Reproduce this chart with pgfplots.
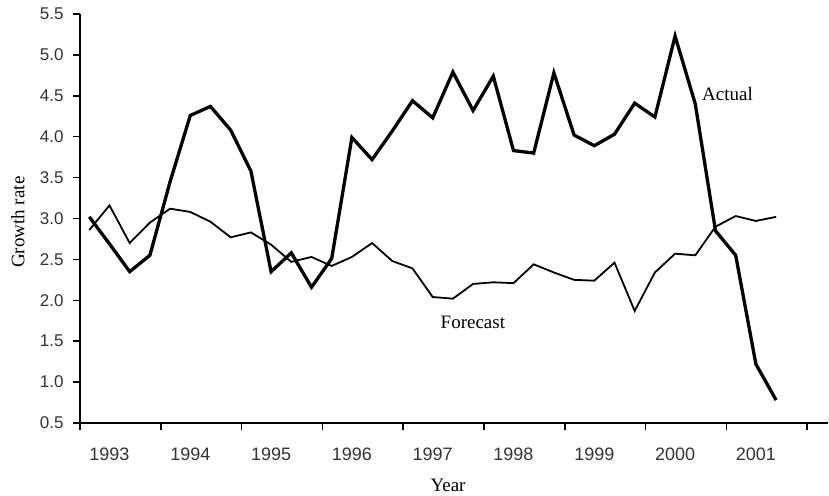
\documentclass[border=0pt]{standalone}
\usepackage{fontspec}
\setmainfont{Liberation Serif}
\newfontfamily\tickfont{Liberation Sans}
\usepackage{pgfplots}
\pgfplotsset{compat=1.18}
\begin{document}
\begin{tikzpicture}
\useasboundingbox (-80bp,-73bp) rectangle (749bp,423bp);
\begin{axis}[
  scale only axis, width=748bp, height=409bp,
  anchor=south west, at={(0,0)},
  xmin=-0.46, xmax=36.57, ymin=0.5, ymax=5.5,
  axis x line=bottom, axis y line=left,
  axis line style={-, line width=1.8bp},
  tick align=outside,
  major tick length=7bp,
  tick style={line width=1.6bp, black},
  xtick={-0.46,3.54,7.54,11.54,15.54,19.54,23.54,27.54,31.54,35.54},
  xticklabels={},
  extra x ticks={1,5,9,13,17,21,25,29,33},
  extra x tick labels={1993,1994,1995,1996,1997,1998,1999,2000,2001},
  extra x tick style={major tick length=0pt, tick style={draw=none},
     xticklabel style={yshift=-21bp}},
  ytick={0.5,1,...,5.5},
  yticklabel style={/pgf/number format/fixed, /pgf/number format/fixed zerofill, /pgf/number format/precision=1, xshift=-6bp},
  /pgf/number format/assume math mode=true,
  ticklabel style={font=\tickfont\fontsize{17bp}{20bp}\selectfont, text=black!80},
  xticklabel style={font=\tickfont\fontsize{18bp}{20bp}\selectfont},
  xlabel={Year}, ylabel={Growth rate},
  label style={font=\fontsize{19bp}{22bp}\selectfont},
  xlabel style={at={(axis description cs:0.492,-0.1516)}, anchor=center},
  ylabel style={at={(axis description cs:-0.0829,0.491)}, anchor=center, rotate=0},
  clip=false,
]
\addplot[black, line width=1.8bp] coordinates {
(0,2.86) (1,3.16) (2,2.70) (3,2.95) (4,3.12) (5,3.08) (6,2.96) (7,2.77) (8,2.83)
(9,2.68) (10,2.47) (11,2.53) (12,2.42) (13,2.53) (14,2.70) (15,2.48) (16,2.39)
(17,2.04) (18,2.02) (19,2.20) (20,2.22) (21,2.21) (22,2.44) (23,2.34) (24,2.25)
(25,2.24) (26,2.46) (27,1.87) (28,2.34) (29,2.57) (30,2.55) (31,2.90) (32,3.03)
(33,2.97) (34,3.02)
};
\addplot[black, line width=3.3bp] coordinates {
(0,3.02) (1,2.69) (2,2.35) (3,2.55) (4,3.45) (5,4.26) (6,4.37) (7,4.08) (8,3.58)
(9,2.35) (10,2.58) (11,2.16) (12,2.51) (13,3.99) (14,3.72) (15,4.07) (16,4.44)
(17,4.23) (18,4.79) (19,4.32) (20,4.74) (21,3.83) (22,3.80) (23,4.78) (24,4.02)
(25,3.89) (26,4.03) (27,4.41) (28,4.24) (29,5.23) (30,4.40) (31,2.85) (32,2.55)
(33,1.22) (34,0.78)
};
\node[anchor=west, font=\fontsize{19bp}{22bp}\selectfont, inner sep=0pt] at (axis cs:30.33,4.52) {Actual};
\node[anchor=center, font=\fontsize{19bp}{22bp}\selectfont, inner sep=0pt] at (axis cs:18.99,1.735) {Forecast};
\end{axis}
\end{tikzpicture}
\end{document}
